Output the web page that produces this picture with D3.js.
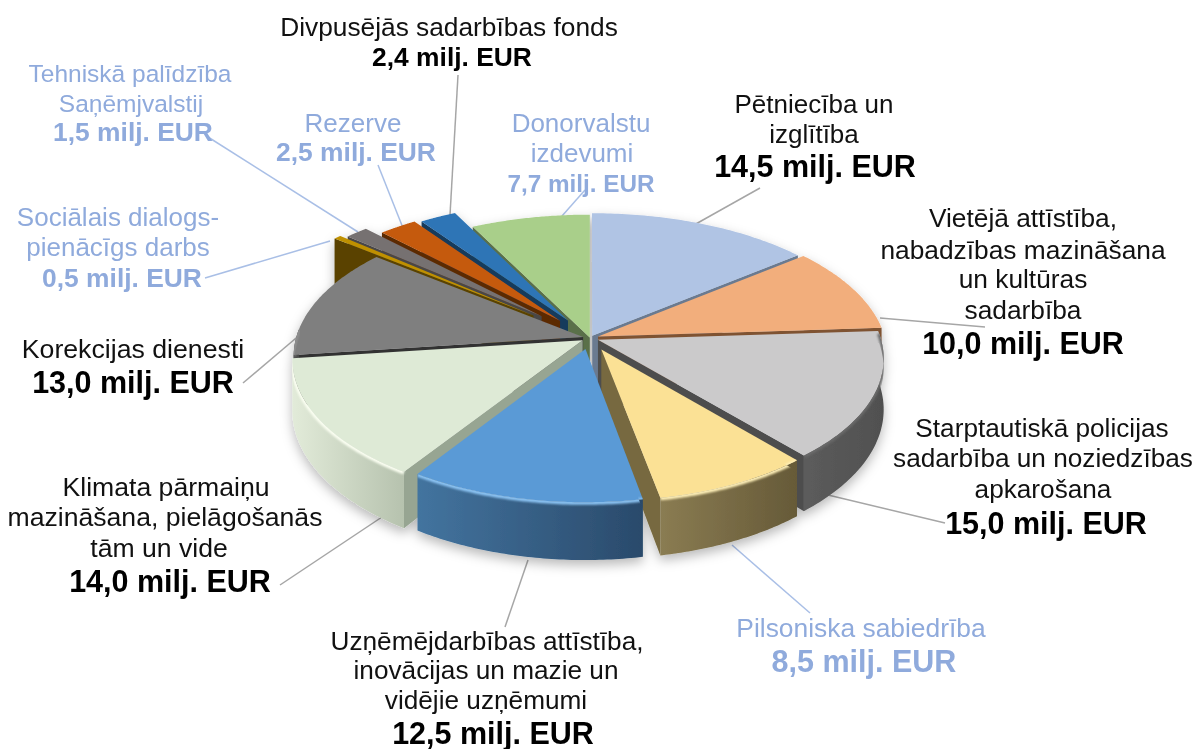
<!DOCTYPE html>
<html><head><meta charset="utf-8">
<script src="https://cdn.jsdelivr.net/npm/d3@7/dist/d3.min.js"></script>
<style>html,body{margin:0;background:#fff}svg{display:block}text{font-family:"Liberation Sans",Arial,sans-serif;text-anchor:middle}</style>
</head><body><svg id="c" width="1197" height="749"></svg>
<script>
const categories=["Pētniecība un izglītība","Vietējā attīstība","Starptautiskā policijas sadarbība","Pilsoniska sabiedrība","Uzņēmējdarbības attīstība","Klimata pārmaiņu mazināšana","Korekcijas dienesti","Sociālais dialogs","Tehniskā palīdzība","Rezerve","Divpusējās sadarbības fonds","Donorvalstu izdevumi"];
const values=[14.5,10,15,8.5,12.5,14,13,0.5,1.5,2.5,2.4,7.7];
const valueLabels=["14,5 milj. EUR","10,0 milj. EUR","15,0 milj. EUR","8,5 milj. EUR","12,5 milj. EUR","14,0 milj. EUR","13,0 milj. EUR","0,5 milj. EUR","1,5 milj. EUR","2,5 milj. EUR","2,4 milj. EUR","7,7 milj. EUR"];
const labelLines=[["Pētniecība un","izglītība"],["Vietējā attīstība,","nabadzības mazināšana","un kultūras","sadarbība"],["Starptautiskā policijas","sadarbība un noziedzības","apkarošana"],["Pilsoniska sabiedrība"],["Uzņēmējdarbības attīstība,","inovācijas un mazie un","vidējie uzņēmumi"],["Klimata pārmaiņu","mazināšana, pielāgošanās","tām un vide"],["Korekcijas dienesti"],["Sociālais dialogs-","pienācīgs darbs"],["Tehniskā palīdzība","Saņēmjvalstij"],["Rezerve"],["Divpusējās sadarbības fonds"],["Donorvalstu","izdevumi"]];
// styling
const topColors=["#b0c4e4","#f2ae7c","#cbcacb","#fbe195","#5a9ad6","#deead6","#7f7f7f","#bf9000","#767171","#c55a11","#2e75b6","#a9cf8a"];
const wallLeft=["#7f90a8","#b47f5a","#5c5c5c","#8a7c52","#43749f","#e2ebd9","#555","#5a4300","#4a4747","#7c3808","#1c4a75","#5f7a4c"];
const wallRight=["#6a7a90","#8f6344","#505050","#665a38","#2a4a6b","#b6c2ae","#444","#5a4300","#4a4747","#7c3808","#1c4a75","#5f7a4c"];
const faceColors=["#6a7a90","#7f5233","#4e4e4e","#77693f","#3a638c","#97a592","#333","#5a4300","#4a4747","#5c2a06","#163a5c","#5a6f4a"];
const rimColors=["#c9d8f0","#f8c8a4","#6a6a6a","#fff0b8","#8cc4f4","#fbfff2","#8f8f8f","#d8a800","#888","#d86a20","#3f86c8","#b8dc98"];
const explode=[0.018,0.03,0.03,0.09,0.08,0.03,0.025,0.26,0.235,0.165,0.15,0.003];
const radii=[1,1,0.985,0.93,0.94,1,1,1,1,1,1,1];
const textColors=["#000","#000","#000","#8faadc","#000","#000","#000","#8faadc","#8faadc","#8faadc","#000","#8faadc"];
const lineColors=["#a6a6a6","#a6a6a6","#a6a6a6","#a9bfe6","#a6a6a6","#a6a6a6","#a6a6a6","#a9bfe6","#a9bfe6","#a9bfe6","#a6a6a6","#a9bfe6"];
// text layout: [centre x per line], [baseline per line], value label x, y, size
const layoutX=[[814,814],[1023,1023,1023,1023],[1042,1043,1043],[861],[487,486,486],[166,165,159],[133],[118,118],[130,131],[353],[449],[581,582]];
const layoutY=[[113,143],[227,259,288,319],[437,467,498],[637],[650,679,709],[496,526,557],[358],[226,256],[82,112],[132],[36],[132,162]];
const nameSize=[26,26.3,26.2,26.4,26.2,26.6,26.7,26,24.5,26,26.3,26];
const valueX=[815,1023,1046,864,493,170,133,122,133,356,452,581];
const valueY=[177,354,534,672,744,592,393,287,141,161,66,192];
const valueSize=[30.5,30.5,30.5,30.5,30.5,30.5,30.5,26.4,26.4,26.4,26.4,24.3];
const leaders=[[694,225,760,188],[880,318,985,327],[828,495,945,523],[732,545,810,613],[528,560,505,627],[382,517,280,585],[302,333,243,383],[330,241,205,278],[358,232,208,137],[403,228,378,165],[450,215,458,75],[562,216,585,190]];

const svg=d3.select("#c");
const defs=svg.append("defs");
const sh=defs.append("filter").attr("id","shadow").attr("x","-10%").attr("y","-10%").attr("width","120%").attr("height","125%");
sh.append("feDropShadow").attr("dx",0).attr("dy",5).attr("stdDeviation",6).attr("flood-color","#000").attr("flood-opacity",0.28);
defs.append("filter").attr("id","blur").attr("x","-10%").attr("y","-20%").attr("width","120%").attr("height","140%").append("feGaussianBlur").attr("stdDeviation",1.3);

const cx=590,cy=338,R=287,Rt=139.4,k=0.133,H=50;
const proj=(u,v,z)=>{const s=1/(1-k*v);return [cx+R*u*s,cy+Rt*v*s+H*z*s];};
const arcs=d3.pie().sort(null).value(d=>d)(values);
const line=d3.line().curve(d3.curveLinear);

// leader lines below the pie
svg.append("g").selectAll("line").data(leaders).join("line")
 .attr("x1",d=>d[0]).attr("y1",d=>d[1]).attr("x2",d=>d[2]).attr("y2",d=>d[3])
 .attr("stroke",(d,i)=>lineColors[i]).attr("stroke-width",1.5);

const pie=svg.append("g").attr("filter","url(#shadow)");
const order=arcs.map((a,i)=>i).sort((a,b)=>{
  const m=i=>(arcs[i].startAngle+arcs[i].endAngle)/2;
  return Math.cos(m(b))<Math.cos(m(a))?-1:1;});
order.forEach(i=>{
  const a=arcs[i],mid=(a.startAngle+a.endAngle)/2,e=explode[i],rr=radii[i];
  const ox=e*Math.sin(mid),oy=-e*Math.cos(mid);
  const pt=(t,z,r=rr)=>proj(ox+r*Math.sin(t),oy-r*Math.cos(t),z);
  const ts=d3.range(0,61).map(j=>a.startAngle+(a.endAngle-a.startAngle)*j/60);
  const g=pie.append("g").attr("class","slice");
  // radial faces that look toward the viewer
  if(Math.sin(a.endAngle)>-0.02) g.append("path").attr("d",line([pt(0,0,0),pt(a.endAngle,0),pt(a.endAngle,1),pt(0,1,0)])+"Z").attr("fill",faceColors[i]);
  if(Math.sin(a.startAngle)<0.02) g.append("path").attr("d",line([pt(0,0,0),pt(a.startAngle,0),pt(a.startAngle,1),pt(0,1,0)])+"Z").attr("fill",faceColors[i]);
  // outer wall, visible half
  const vis=ts.filter(t=>Math.cos(t)<0.06);
  if(vis.length>1){
    const xs=vis.map(t=>pt(t,0)[0]);
    const id="w"+i;
    const gr=defs.append("linearGradient").attr("id",id).attr("gradientUnits","userSpaceOnUse")
      .attr("x1",d3.min(xs)).attr("x2",d3.max(xs)).attr("y1",0).attr("y2",0);
    gr.append("stop").attr("offset",0).attr("stop-color",wallLeft[i]);
    gr.append("stop").attr("offset",1).attr("stop-color",wallRight[i]);
    g.append("path").attr("d",line(vis.map(t=>pt(t,0)).concat(vis.slice().reverse().map(t=>pt(t,1))))+"Z").attr("fill",`url(#${id})`);
  }
  // top face
  const topPts=[pt(0,0,0)].concat(ts.map(t=>pt(t,0)));
  g.append("path").attr("d",line(topPts)+"Z").attr("fill",topColors[i]);
  // bevel highlight along the rim
  if(vis.length>1){
    const cid="t"+i;
    defs.append("clipPath").attr("id",cid).append("path").attr("d",line(topPts.concat(vis.slice().reverse().map(t=>pt(t,0.2))))+"Z");
    g.append("path").attr("d",line(vis.map(t=>pt(t,0.01))))
     .attr("fill","none").attr("stroke",rimColors[i]).attr("stroke-width",4)
     .attr("filter","url(#blur)").attr("clip-path",`url(#${cid})`);
  }
});

// labels
const labels=svg.append("g");
categories.forEach((c,i)=>{
  const col=textColors[i];
  labelLines[i].forEach((t,j)=>labels.append("text").attr("x",layoutX[i][j]).attr("y",layoutY[i][j]).attr("font-size",nameSize[i]).attr("fill",col==="#000"?"#111":col).text(t));
  labels.append("text").attr("x",valueX[i]).attr("y",valueY[i]).attr("font-size",valueSize[i]).attr("font-weight","bold").attr("fill",col).text(valueLabels[i]);
});
</script></body></html>
